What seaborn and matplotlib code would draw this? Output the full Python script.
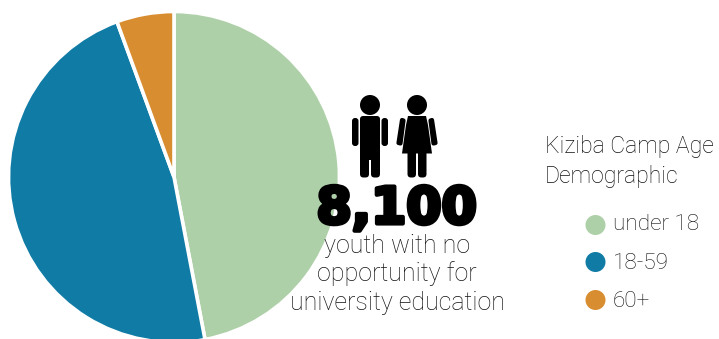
import matplotlib
matplotlib.use("Agg")
import matplotlib.pyplot as plt
from matplotlib.patches import Circle, FancyBboxPatch, Polygon
import matplotlib.patheffects as pe
import seaborn as sns

sns.set_theme(style="white")
plt.rcParams['font.family'] = ['Roboto', 'DejaVu Sans']

W, H = 719, 339

# Age shares of the camp population, percent
age_groups = ["under 18", "18-59", "60+"]
age_shares = [47.0, 47.4, 5.6]
palette = ["#AED0A8", "#107CA6", "#D88D30"]

headline = "8,100"
caption_lines = ["youth with no", "opportunity for", "university education"]
legend_title = ["Kiziba Camp Age", "Demographic"]

fig = plt.figure(figsize=(W / 100, H / 100), dpi=100, facecolor="white")

# Pie, clockwise from twelve o'clock
cx, cy, r = 174, 177, 165.5
pie_ax = fig.add_axes([(cx - r) / W, 1 - (cy + r) / H, 2 * r / W, 2 * r / H])
pie_ax.pie(age_shares, colors=palette, startangle=90, counterclock=False, radius=1,
           wedgeprops=dict(edgecolor="white", linewidth=2.6))
pie_ax.set_xlim(-1, 1)
pie_ax.set_ylim(-1, 1)
pie_ax.set_aspect("equal")
pie_ax.patch.set_alpha(0)

# Overlay in pixel coordinates for the icons, text and legend
ax = fig.add_axes([0, 0, 1, 1], zorder=5)
ax.set_xlim(0, W)
ax.set_ylim(H, 0)
ax.axis("off")


def rounded(x0, y0, x1, y1, rad, color="black"):
    ax.add_patch(FancyBboxPatch((x0 + rad, y0 + rad), x1 - x0 - 2 * rad, y1 - y0 - 2 * rad,
                                boxstyle=f"round,pad={rad}", fc=color, ec="none"))


def limb(points):
    ax.add_patch(Polygon(points, closed=True, fc="black", ec="black", lw=3, joinstyle="round"))


# Male figure
ax.add_patch(Circle((370, 105), 10, fc="black", ec="none"))
rounded(360, 116, 380, 160, 3)
rounded(352, 118, 358.5, 146, 3)
rounded(381.5, 118, 388, 146, 3)
rounded(360, 150, 369, 177.5, 3.5)
rounded(371, 150, 380, 177.5, 3.5)

# Female figure
ax.add_patch(Circle((417, 105), 10, fc="black", ec="none"))
ax.add_patch(Polygon([[408, 116], [426, 116], [428, 125], [432, 153.5], [402, 153.5], [406, 125]],
                     closed=True, fc="black", ec="none"))
limb([[402, 120], [403.5, 120.5], [400.5, 143.5], [398.5, 143]])
limb([[430.5, 120.5], [432, 120], [435.5, 143], [433.5, 143.5]])
rounded(407.5, 150, 416, 177.5, 3.5)
rounded(418, 150, 426.5, 177.5, 3.5)

# Headline figure and caption
ax.text(396.5, 223.5, headline, ha="center", va="baseline", fontsize=36.5, fontweight="bold", color="black",
        family="DejaVu Sans", path_effects=[pe.withStroke(linewidth=3, foreground="black")])
for y, line in zip([253, 281.5, 310], caption_lines):
    ax.text(397, y, line, ha="center", va="baseline", fontsize=18, fontweight="light", color="#111111")

# Legend
for y, line in zip([153, 183], legend_title):
    ax.text(545, y, line, ha="left", va="baseline", fontsize=16.6, fontweight="light", color="#111111")
for y, base, label, color in zip([225, 262, 300], [230, 269, 307], age_groups, palette):
    ax.add_patch(Circle((595.5, y), 10, fc=color, ec="none"))
    ax.text(613, base, label, ha="left", va="baseline", fontsize=16.2, fontweight="light", color="#111111")

fig.savefig("out.png", dpi=100)
